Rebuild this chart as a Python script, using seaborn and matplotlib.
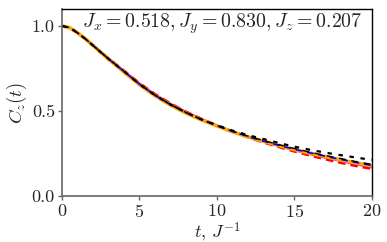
import seaborn as sns
import matplotlib.pyplot as plt
import numpy as np

# time grid and curves
t = [0, 0.5, 1, 1.5, 2, 2.5, 3, 4, 5, 6, 7, 8, 9, 10, 11, 12, 13, 14, 15, 16, 17, 18, 19, 20]
c_orange = [1.0, 0.99, 0.96, 0.925, 0.885, 0.845, 0.805, 0.73, 0.655, 0.59, 0.535, 0.488, 0.448,
            0.412, 0.378, 0.348, 0.322, 0.297, 0.273, 0.252, 0.232, 0.212, 0.194, 0.177]
c_magenta = [1.0, 0.99, 0.96, 0.926, 0.887, 0.848, 0.81, 0.737, 0.663, 0.598, 0.543, 0.495, 0.454,
             0.416, 0.38, 0.348, 0.32, 0.294, 0.269, 0.246, 0.225, 0.205, 0.186, 0.168]
c_red = [1.0, 0.99, 0.96, 0.926, 0.887, 0.848, 0.81, 0.738, 0.664, 0.6, 0.545, 0.496, 0.454,
         0.415, 0.378, 0.345, 0.315, 0.288, 0.262, 0.238, 0.216, 0.195, 0.176, 0.16]
c_blue = [1.0, 0.99, 0.96, 0.925, 0.886, 0.846, 0.807, 0.733, 0.658, 0.593, 0.538, 0.491, 0.45,
          0.414, 0.38, 0.35, 0.323, 0.298, 0.275, 0.254, 0.234, 0.215, 0.197, 0.18]
c_black = [1.0, 0.99, 0.96, 0.925, 0.886, 0.846, 0.807, 0.733, 0.658, 0.593, 0.538, 0.491, 0.45,
           0.414, 0.381, 0.352, 0.326, 0.302, 0.279, 0.258, 0.238, 0.22, 0.202, 0.186]
c_dotted = [1.0, 0.99, 0.96, 0.925, 0.886, 0.846, 0.807, 0.733, 0.658, 0.593, 0.538, 0.491, 0.45,
            0.416, 0.385, 0.358, 0.335, 0.312, 0.29, 0.272, 0.255, 0.24, 0.226, 0.212]

sns.set_style("white")
plt.rcParams['font.family'] = 'serif'
plt.rcParams['font.serif'] = ['cmr10']
plt.rcParams['mathtext.fontset'] = 'cm'
plt.rcParams['axes.formatter.use_mathtext'] = True

fig = plt.figure(figsize=(3.87, 2.42), dpi=100)
ax = fig.add_axes([0.160, 0.19, 0.801, 0.773])

sns.lineplot(x=t, y=c_magenta, color='magenta', lw=1.5, ax=ax)
sns.lineplot(x=t, y=c_red, color='red', lw=1.8, linestyle=(0, (3, 2)), ax=ax)
sns.lineplot(x=t, y=c_orange, color='orange', lw=2.6, ax=ax)
sns.lineplot(x=t, y=c_blue, color='blue', lw=1.2, linestyle=(0, (4, 3)), ax=ax)
sns.lineplot(x=t, y=c_black, color='black', lw=1.0, linestyle=(0, (5, 4)), ax=ax)
sns.lineplot(x=t, y=c_dotted, color='black', lw=1.6, linestyle=(0, (2, 3)), ax=ax)

ax.set_xlim(0, 20)
ax.set_ylim(0, 1.1)
ax.set_xticks([0, 5, 10, 15, 20])
ax.set_yticks([0.0, 0.5, 1.0])
ax.set_yticklabels(['0.0', '0.5', '1.0'])
ax.tick_params(axis='both', labelsize=13, length=3, width=1, color='#666666', direction='out',
               bottom=True, left=True, pad=2)
for s in ['left', 'bottom']:
    ax.spines[s].set_color('#666666')
    ax.spines[s].set_linewidth(1.2)
for s in ['top', 'right']:
    ax.spines[s].set_color('black')
    ax.spines[s].set_linewidth(1.0)

ax.set_xlabel(r'$t,\, J^{-1}$', fontsize=13, labelpad=0)
ax.set_ylabel(r'$C_z(t)$', fontsize=13.5, labelpad=2)
ax.text(0.065, 0.985, r'$J_x = 0.518, J_y = 0.830, J_z = 0.207$', transform=ax.transAxes,
        fontsize=14.3, va='top', ha='left')

fig.savefig('out.png', dpi=100)
